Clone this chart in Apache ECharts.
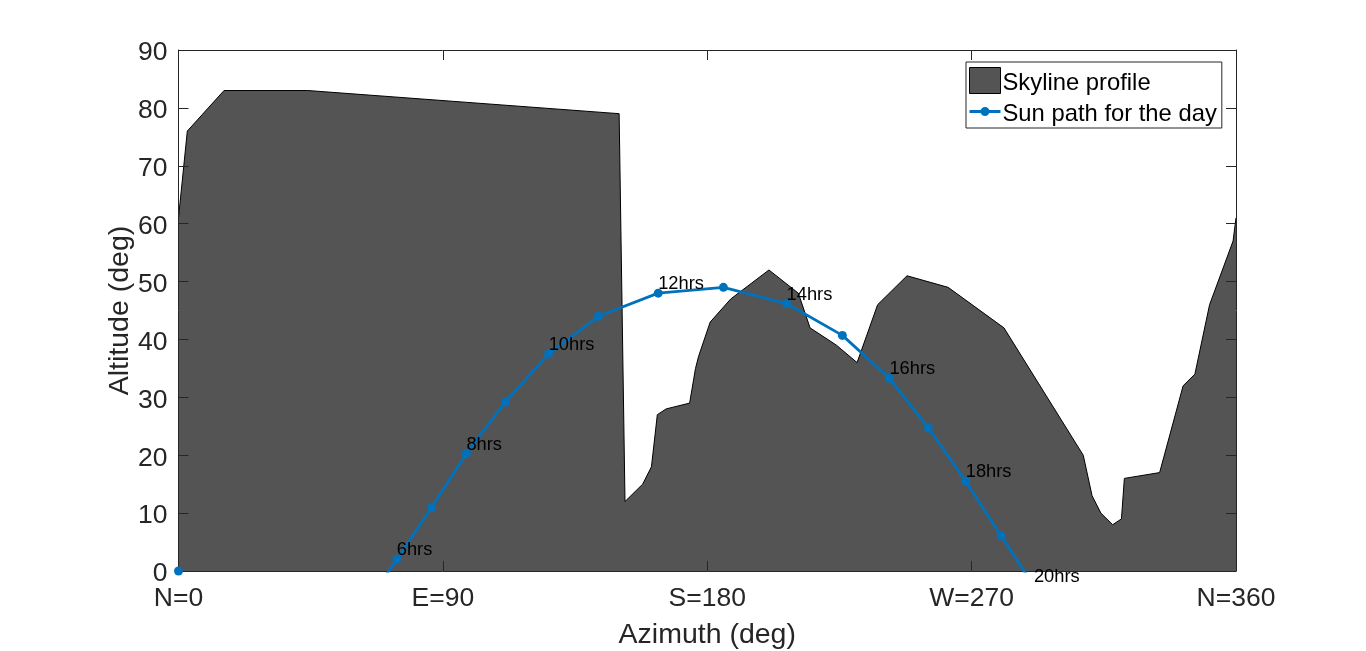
<!DOCTYPE html>
<html>
<head>
<meta charset="utf-8">
<script src="https://cdn.jsdelivr.net/npm/echarts@6/dist/echarts.min.js"></script>
<style>html,body{margin:0;padding:0;background:#fff}#c{width:1366px;height:651px}</style>
</head>
<body>
<div id="c"></div>
<script>
const skylineAz  = [0,3,15.5,44,150,152,158,161,163,166,174,176,177,181,188,201,211,215,224,231,238,248,262,281,308,311,314,318,321,322,334,342,346,351,359,360];
const skylineAlt = [61,76,83,83,79,12,15,18,27,28,29,35,37,43,47,52,48,42,39,36,46,51,49,42,20,13,10,8,9,16,17,32,34,46,57,61];
const sunAz  = [0,null,62.5,74.3,86.2,98,111.3,126,143,163.3,185.5,207,226,242,255.3,268,280,291.2];
const sunAlt = [0,null,-6.7,2,11,20.3,29.2,37.5,44,48,49,46.2,40.7,33.3,24.7,15.5,6.1,-2.6];
const hourAz  = [74.3,98,126,163.3,207,242,268,291.2];
const hourAlt = [2,20.3,37.5,48,46.2,33.3,15.5,-2.6];
const hourLabels = ['6hrs','8hrs','10hrs','12hrs','14hrs','16hrs','18hrs','20hrs'];
const xTickValues = [0,90,180,270,360];
const xTickLabels = ['N=0','E=90','S=180','W=270','N=360'];

const FONT = '"Liberation Sans", Arial, sans-serif';
const INK = '#262626';
const FILL = '#545454';
const BLUE = '#0072BD';
const SUN_ICON = 'path://M15 0L15.1 0L15 0ZM15 26L15.1 26L15 26ZM0 11.6L31 11.6L31 14.4L0 14.4ZM11 13a4.5 4.5 0 1 1 9 0a4.5 4.5 0 1 1 -9 0Z';

const chart = echarts.init(document.getElementById('c'), null, {renderer:'canvas'});
const baseAxis = {
  z: 5,
  axisLine:{show:true, onZero:false, lineStyle:{color:INK, width:1}},
  axisTick:{show:true, inside:true, length:10, lineStyle:{color:INK, width:1}},
  splitLine:{show:false}
};
chart.setOption({
  animation:false,
  backgroundColor:'#fff',
  textStyle:{fontFamily:FONT},
  grid:{left:178.5, top:50, width:1057.5, height:521, containLabel:false, outerBoundsMode:'none'},
  legend:{
    left:966, top:62, orient:'vertical', padding:[4,5,2,3],
    itemWidth:31, itemHeight:26, itemGap:2,
    backgroundColor:'#fff', borderColor:INK, borderWidth:1, borderRadius:0,
    formatter:name=>`{a|${name}}`,
    textStyle:{fontFamily:FONT, fontSize:23.8, color:'#000', padding:[0,0,0,-3],
      rich:{a:{fontFamily:FONT, fontSize:23.8, color:'#000', lineHeight:20, padding:[5,0,0,0]}}},
    data:[
      {name:'Skyline profile', icon:'rect', itemStyle:{color:FILL, borderColor:'#000', borderWidth:1}},
      {name:'Sun path for the day', icon:SUN_ICON, itemStyle:{color:BLUE, borderWidth:0}}
    ]
  },
  xAxis:[
    Object.assign({}, baseAxis, {
      type:'value', position:'bottom', min:0, max:360, interval:90,
      axisLabel:{color:INK, fontFamily:FONT, fontSize:26.5, margin:14, formatter:v=>xTickLabels[xTickValues.indexOf(v)]},
      name:'Azimuth (deg)', nameLocation:'middle', nameGap:50, nameMoveOverlap:false,
      nameTextStyle:{color:INK, fontFamily:FONT, fontSize:28.5}
    }),
    Object.assign({}, baseAxis, {
      type:'value', position:'top', min:0, max:360, interval:90, axisLabel:{show:false}
    })
  ],
  yAxis:[
    Object.assign({}, baseAxis, {
      type:'value', position:'left', min:0, max:90, interval:10,
      axisLabel:{color:INK, fontFamily:FONT, fontSize:26.5, margin:11, verticalAlign:'top', lineHeight:6},
      name:'Altitude (deg)', nameLocation:'middle', nameGap:44, nameMoveOverlap:false,
      nameTextStyle:{color:INK, fontFamily:FONT, fontSize:28.5}
    }),
    Object.assign({}, baseAxis, {
      type:'value', position:'right', min:0, max:90, interval:10, axisLabel:{show:false}
    })
  ],
  series:[
    {
      name:'Skyline profile', type:'line', z:2, symbol:'none', clip:true,
      data:skylineAz.map((a,i)=>[a,skylineAlt[i]]),
      lineStyle:{color:'#000', width:1},
      itemStyle:{color:FILL},
      areaStyle:{color:FILL, opacity:1, origin:'start'}
    },
    {
      name:'Sun path for the day', type:'line', z:10, clip:true,
      symbol:'circle', symbolSize:9, showSymbol:true, showAllSymbol:true, connectNulls:false,
      data:sunAz.map((a,i)=>a===null?['-','-']:[a,sunAlt[i]]),
      lineStyle:{color:BLUE, width:2.8},
      itemStyle:{color:BLUE}
    },
    {
      name:'hour labels', type:'scatter', z:11, clip:false, symbolSize:0, silent:true,
      itemStyle:{opacity:1},
      data:hourAz.map((a,i)=>({value:[a,hourAlt[i]], label:{formatter:hourLabels[i]}})),
      label:{show:true, position:'right', distance:0, offset:[0,-9], color:'#000', fontFamily:FONT, fontSize:18.3}
    }
  ]
});
</script>
</body>
</html>
